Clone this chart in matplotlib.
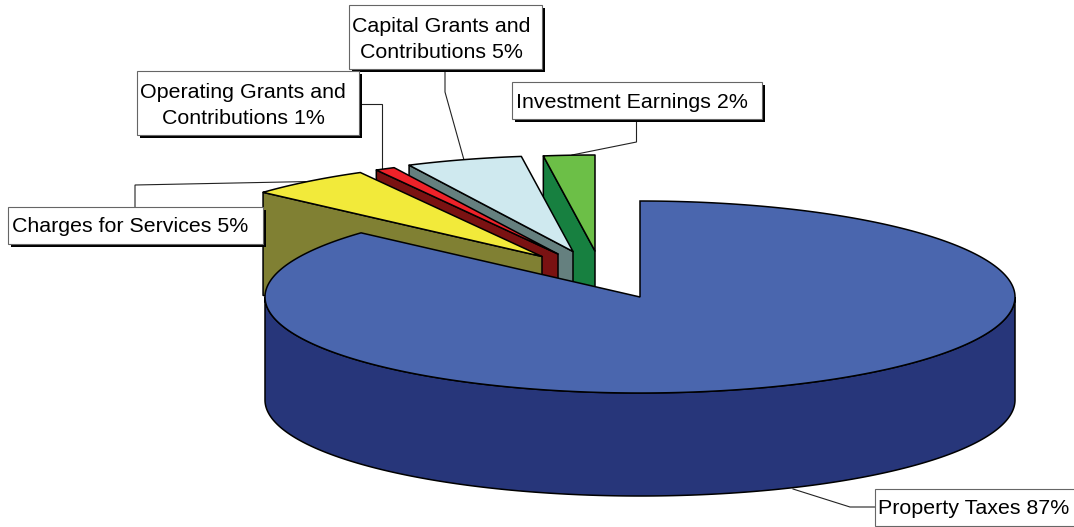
import numpy as np
import matplotlib
matplotlib.use("Agg")
import matplotlib.pyplot as plt
from matplotlib.patches import Rectangle

plt.rcParams["font.family"] = ["Liberation Sans", "DejaVu Sans"]

# ---- DATA ----
categorias = [
    "Property Taxes",
    "Charges for Services",
    "Operating Grants and Contributions",
    "Capital Grants and Contributions",
    "Investment Earnings",
]
valores = [86.65, 5.3, 0.85, 5.0, 2.2]
etiquetas = [
    "Property Taxes 87%",
    "Charges for Services 5%",
    "Operating Grants and\nContributions 1%",
    "Capital Grants and\nContributions 5%",
    "Investment Earnings 2%",
]

# ---- ESTILO ----
color_top = ["#4A66AE", "#F2EA3A", "#EE2229", "#CFE9EF", "#6CBF47"]
color_side = ["#27367A", "#808033", "#7A1212", "#65807F", "#178040"]
# desplazamiento de cada porcion en pixeles
explode = [(0, 0), (-98, -40.5), (-82, -43), (-67, -45.5), (-45, -46)]

cx, cy = 640, 297
rx, ry = 375, 96
depth = 103

# caja de cada etiqueta: x0, y0, x1, y1
cajas = [
    (874.5, 489, 1080, 526),
    (8, 207, 262.5, 244),
    (137, 71, 359, 135),
    (349, 5, 542, 69),
    (512, 82, 761.5, 119),
]
# lineas guia
guias = [
    ([874.5, 850, 793], [507, 507, 489]),
    ([135, 135, 310], [207, 185, 181.5]),
    ([362, 381.5, 381.5], [103.5, 103.5, 168]),
    ([445, 445, 464], [72, 92, 160]),
    ([636.5, 636.5, 572], [122, 142, 155]),
]


def punto(ang, ox=0, oy=0):
    # ang en grados medidos desde arriba en sentido horario
    t = np.radians(ang)
    return cx + ox + rx * np.sin(t), cy + oy - ry * np.cos(t)


fig = plt.figure(figsize=(10.74, 5.27), dpi=100)
ax = fig.add_axes([0, 0, 1, 1])
ax.set_xlim(0, 1074)
ax.set_ylim(527, 0)
ax.axis("off")

LW = 1.1

# angulos de cada porcion, la primera parte en las 12
bordes = np.concatenate([[0], np.cumsum(valores)]) * 360 / sum(valores)
rangos = list(zip(bordes[:-1], bordes[1:]))

# lineas guia detras de la torta y de las cajas
for gx, gy in guias:
    ax.plot(gx, gy, color="#222222", linewidth=0.8, solid_joinstyle="miter", zorder=1)

# porciones pequenas: de atras hacia adelante (inversion primero)
for i in range(len(valores) - 1, 0, -1):
    a0, a1 = rangos[i]
    ox, oy = explode[i]
    # cara del corte que mira al frente
    x0, y0 = punto(a0, ox, oy)
    ax_apex, ay_apex = cx + ox, cy + oy
    ax.fill(
        [x0, ax_apex, ax_apex, x0],
        [y0, ay_apex, ay_apex + depth, y0 + depth],
        facecolor=color_side[i],
        edgecolor="black",
        linewidth=LW,
        joinstyle="round",
        zorder=2,
    )
    # tapa
    angs = np.linspace(a0, a1, 40)
    xs, ys = punto(angs, ox, oy)
    ax.fill(
        np.concatenate([[ax_apex], xs]),
        np.concatenate([[ay_apex], ys]),
        facecolor=color_top[i],
        edgecolor="black",
        linewidth=LW,
        joinstyle="round",
        zorder=2,
    )

# porcion grande: primero el costado y luego la tapa
a0, a1 = rangos[0]
angs = np.linspace(90, 270, 300)
xs, ys = punto(angs)
ax.fill(
    np.concatenate([xs, xs[::-1]]),
    np.concatenate([ys, ys[::-1] + depth]),
    facecolor=color_side[0],
    edgecolor="black",
    linewidth=LW,
    zorder=3,
)
angs = np.linspace(a0, a1, 600)
xs, ys = punto(angs)
ax.fill(
    np.concatenate([[cx], xs]),
    np.concatenate([[cy], ys]),
    facecolor=color_top[0],
    edgecolor="black",
    linewidth=LW,
    joinstyle="miter",
    zorder=3,
)

# etiquetas con sombra negra
for texto, (x0, y0, x1, y1) in zip(etiquetas, cajas):
    ax.add_patch(
        Rectangle((x0 + 3, y0 + 3), x1 - x0, y1 - y0, facecolor="black", edgecolor="none", zorder=5)
    )
    ax.add_patch(
        Rectangle((x0, y0), x1 - x0, y1 - y0, facecolor="white", edgecolor="#666666", linewidth=0.8, zorder=6)
    )
    ajuste = 2.5 if "\n" in texto else 1.5
    ax.text(
        x0 + 3.5,
        (y0 + y1) / 2 + ajuste,
        texto,
        ha="left",
        va="center",
        multialignment="center",
        fontsize=15.4,
        linespacing=1.4,
        color="black",
        zorder=7,
    )

fig.savefig("out.png", dpi=100)
